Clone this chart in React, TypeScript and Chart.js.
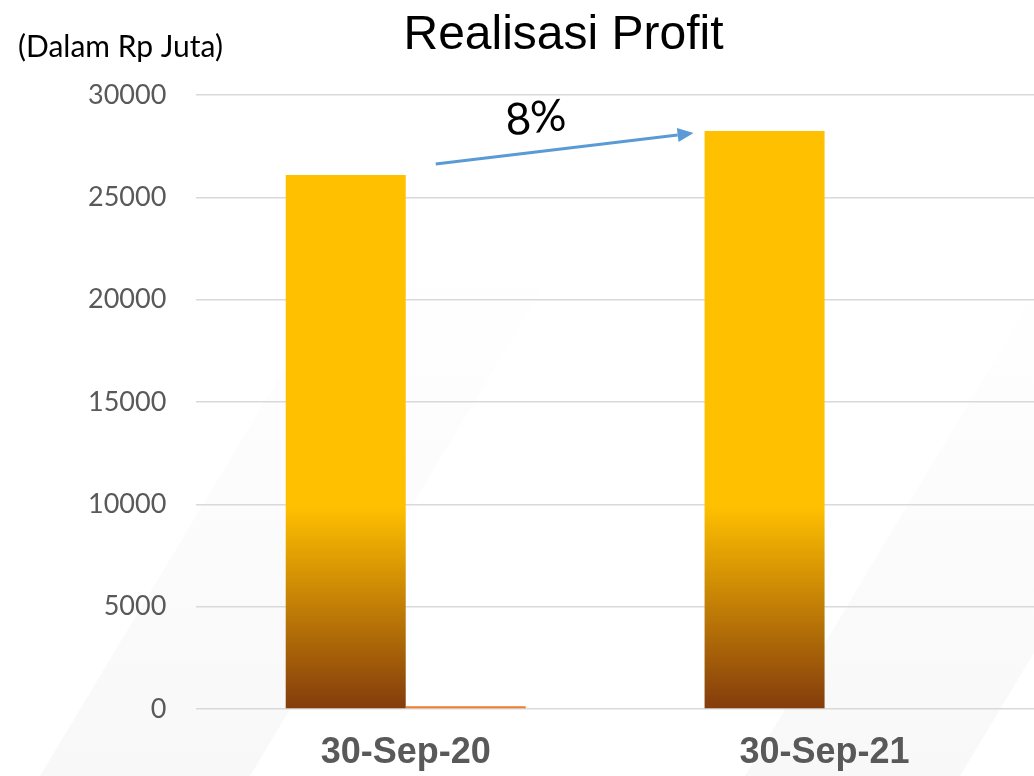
import React, { useEffect, useRef } from "react";
import { Chart, registerables } from "chart.js";

Chart.register(...registerables);

const categories: string[] = ["30-Sep-20", "30-Sep-21"];
const profitValues: number[] = [26090, 28240];
const secondValues: number[] = [140, 0];
const yTicks: number[] = [0, 5000, 10000, 15000, 20000, 25000, 30000];
const titleText = "Realisasi Profit";
const unitText = "(Dalam Rp Juta)";

const bgPlugin = {
  id: "bgStripes",
  beforeDraw(chart: any) {
    const { ctx, width, height } = chart;
    ctx.save();
    ctx.fillStyle = "#ffffff";
    ctx.fillRect(0, 0, width, height);
    const grad = ctx.createLinearGradient(0, height, 0, 250);
    grad.addColorStop(0, "rgba(0,0,0,0.028)");
    grad.addColorStop(1, "rgba(0,0,0,0)");
    ctx.fillStyle = grad;
    const slope = 0.6;
    const bands = [
      [40, 250],
      [745, 960],
    ];
    for (const [a, b] of bands) {
      ctx.beginPath();
      ctx.moveTo(a, height);
      ctx.lineTo(b, height);
      ctx.lineTo(b + height * slope, 0);
      ctx.lineTo(a + height * slope, 0);
      ctx.closePath();
      ctx.fill();
    }
    ctx.restore();
  },
};

const gradientPlugin = {
  id: "barGradient",
  beforeDatasetsDraw(chart: any) {
    const { ctx } = chart;
    const meta = chart.getDatasetMeta(0);
    meta.data.forEach((bar: any) => {
      const { y, base } = bar.getProps(["y", "base"], true);
      const h = base - y;
      const g = ctx.createLinearGradient(0, base, 0, y);
      g.addColorStop(0, "#843C0C");
      g.addColorStop(0.35, "#FFC000");
      g.addColorStop(1, "#FFC000");
      bar.options.backgroundColor = h > 0 ? g : "#FFC000";
    });
  },
};

const annotationPlugin = {
  id: "annotations",
  afterDraw(chart: any) {
    const { ctx, width } = chart;
    ctx.save();
    // title
    ctx.fillStyle = "#000000";
    ctx.font = "48px 'Liberation Sans', Arial, sans-serif";
    ctx.textAlign = "center";
    ctx.textBaseline = "alphabetic";
    ctx.fillText(titleText, width * 0.545, 49);
    // unit
    ctx.font = "30px Lato, sans-serif";
    ctx.textAlign = "left";
    ctx.textBaseline = "middle";
    ctx.fillText(unitText, 18, 47);

    // arrow between bars
    const meta = chart.getDatasetMeta(0);
    const b1 = meta.data[0].getProps(["x", "y", "width"], true);
    const b2 = meta.data[1].getProps(["x", "y", "width"], true);
    const x0 = b1.x + b1.width / 2 + 30;
    const y0 = b1.y - 11;
    const x1 = b2.x - b2.width / 2 - 11;
    const y1 = b2.y + 2;
    const ang = Math.atan2(y1 - y0, x1 - x0);
    const headLen = 16;
    const headW = 7;
    const bx = x1 - headLen * Math.cos(ang);
    const by = y1 - headLen * Math.sin(ang);
    ctx.strokeStyle = "#5B9BD5";
    ctx.fillStyle = "#5B9BD5";
    ctx.lineWidth = 3;
    ctx.beginPath();
    ctx.moveTo(x0, y0);
    ctx.lineTo(bx, by);
    ctx.stroke();
    ctx.beginPath();
    ctx.moveTo(x1, y1);
    ctx.lineTo(bx + headW * Math.sin(ang), by - headW * Math.cos(ang));
    ctx.lineTo(bx - headW * Math.sin(ang), by + headW * Math.cos(ang));
    ctx.closePath();
    ctx.fill();

    // growth label
    const pct = Math.round((profitValues[1] / profitValues[0] - 1) * 100);
    const mx = (x0 + x1) / 2 - 29;
    const my = (y0 + y1) / 2 - 30;
    ctx.translate(mx, my);
    ctx.rotate(-0.09);
    ctx.fillStyle = "#000000";
    ctx.font = "44px Lato, sans-serif";
    ctx.textAlign = "center";
    ctx.textBaseline = "middle";
    ctx.fillText(pct + "%", 0, 0);
    ctx.restore();
  },
};

export default function App() {
  const canvasRef = useRef<HTMLCanvasElement | null>(null);

  useEffect(() => {
    document.body.style.margin = "0";
    const canvas = canvasRef.current;
    if (!canvas) return;
    const chart = new Chart(canvas, {
      type: "bar",
      data: {
        labels: categories,
        datasets: [
          {
            label: "Profit",
            data: profitValues,
            backgroundColor: "#FFC000",
            borderWidth: 0,
          },
          {
            label: "Series 2",
            data: secondValues,
            backgroundColor: "#ED7D31",
            borderWidth: 0,
          },
        ],
      },
      options: {
        animation: false,
        responsive: false,
        maintainAspectRatio: false,
        layout: { padding: { left: 58, top: 95, right: 0, bottom: 0 } },
        plugins: {
          legend: { display: false },
          tooltip: { enabled: false },
          title: { display: false },
        },
        datasets: {
          bar: { categoryPercentage: 0.573, barPercentage: 1 },
        },
        scales: {
          x: {
            grid: { display: false },
            border: { display: false },
            afterFit: (axis: any) => {
              axis.height = 67;
            },
            ticks: {
              color: "#595959",
              font: { family: "'Liberation Sans', Arial, sans-serif", size: 36, weight: "bold" },
              padding: 14,
            },
          },
          y: {
            min: 0,
            max: 30000,
            afterBuildTicks: (axis: any) => {
              axis.ticks = yTicks.map((v) => ({ value: v }));
            },
            grid: { color: "#d9d9d9", lineWidth: 1.5, drawTicks: false },
            border: { display: false },
            ticks: {
              color: "#595959",
              font: { family: "Lato, sans-serif", size: 27 },
              padding: 30,
              callback: (v: any) => String(v),
            },
          },
        },
      },
      plugins: [bgPlugin, gradientPlugin, annotationPlugin],
    });
    return () => chart.destroy();
  }, []);

  return (
    <div style={{ width: 1034, height: 776 }}>
      <canvas ref={canvasRef} width={1034} height={776} style={{ display: "block" }} />
    </div>
  );
}
